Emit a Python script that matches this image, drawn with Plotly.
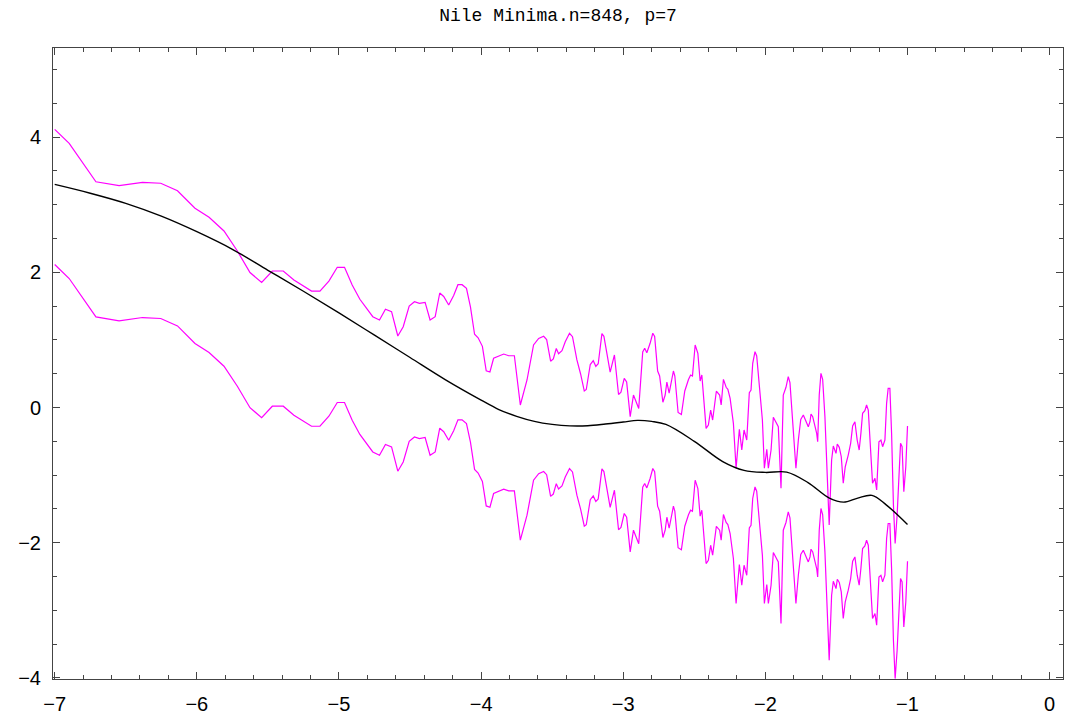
import plotly.graph_objects as go

# Log-frequency abscissa shared by both band curves
log_freq = [
    -7.000,-6.898,-6.710,-6.547,-6.382,-6.254,-6.136,-6.013,-5.914,-5.809,
    -5.715,-5.626,-5.544,-5.469,-5.392,-5.317,-5.193,-5.134,-5.071,-5.012,
    -4.961,-4.907,-4.853,-4.762,-4.715,-4.673,-4.630,-4.586,-4.548,-4.506,
    -4.469,-4.434,-4.394,-4.359,-4.323,-4.291,-4.263,-4.228,-4.193,-4.163,
    -4.134,-4.103,-4.075,-4.046,-4.021,-3.991,-3.964,-3.938,-3.912,-3.872,
    -3.841,-3.806,-3.766,-3.724,-3.677,-3.631,-3.595,-3.560,-3.539,-3.511,
    -3.492,-3.471,-3.455,-3.431,-3.408,-3.378,-3.357,-3.326,-3.300,-3.274,
    -3.260,-3.232,-3.211,-3.193,-3.176,-3.150,-3.136,-3.092,-3.062,-3.033,
    -3.016,-2.993,-2.976,-2.951,-2.928,-2.891,-2.863,-2.849,-2.834,-2.811,
    -2.792,-2.779,-2.758,-2.744,-2.721,-2.705,-2.693,-2.677,-2.647,-2.637,
    -2.614,-2.591,-2.567,-2.541,-2.526,-2.513,-2.494,-2.475,-2.459,-2.447,
    -2.417,-2.401,-2.385,-2.371,-2.345,-2.322,-2.311,-2.295,-2.276,-2.264,
    -2.248,-2.225,-2.206,-2.183,-2.166,-2.150,-2.131,-2.113,-2.101,-2.089,
    -2.073,-2.061,-2.042,-2.021,-2.007,-1.990,-1.979,-1.960,-1.944,-1.909,
    -1.890,-1.874,-1.855,-1.839,-1.827,-1.804,-1.785,-1.768,-1.751,-1.733,
    -1.716,-1.698,-1.686,-1.679,-1.667,-1.651,-1.639,-1.632,-1.621,-1.609,
    -1.597,-1.581,-1.564,-1.551,-1.534,-1.522,-1.503,-1.494,-1.480,-1.466,
    -1.452,-1.438,-1.417,-1.400,-1.386,-1.370,-1.354,-1.340,-1.328,-1.316,
    -1.300,-1.288,-1.276,-1.260,-1.246,-1.229,-1.217,-1.201,-1.187,-1.175,
    -1.159,-1.147,-1.136,-1.124,-1.112,-1.099,-1.087,-1.073,-1.059,-1.049,
    -1.038,-1.026,-1.012,-1.000,
]

band_upper = [
    4.115,3.908,3.340,3.281,3.331,3.317,3.207,2.947,2.814,2.611,
    2.315,1.997,1.849,2.019,2.019,1.886,1.723,1.723,1.871,2.074,
    2.074,1.812,1.601,1.343,1.294,1.453,1.417,1.058,1.195,1.501,
    1.565,1.541,1.556,1.294,1.343,1.694,1.642,1.516,1.657,1.817,
    1.817,1.763,1.487,1.084,1.031,0.905,0.544,0.525,0.728,0.762,
    0.791,0.766,0.766,0.037,0.407,0.925,1.021,1.053,1.006,0.685,
    0.720,0.873,0.796,0.840,0.973,1.098,1.047,0.703,0.496,0.244,
    0.266,0.636,0.692,0.609,0.648,1.092,1.053,0.522,0.777,0.192,
    0.226,0.432,0.377,-0.136,0.185,-0.015,0.821,0.876,0.811,0.950,
    1.098,1.050,0.540,0.466,0.077,0.185,0.377,0.214,0.540,0.466,
    -0.074,-0.104,0.244,0.414,0.481,0.466,0.925,0.802,0.392,0.481,
    -0.308,-0.259,-0.037,-0.185,0.241,0.185,0.037,0.417,0.299,0.269,
    0.136,-0.234,-0.899,-0.322,-0.629,-0.333,-0.481,0.219,0.259,0.654,
    0.825,0.762,0.358,-0.185,-0.899,-0.618,-0.899,-0.629,-0.145,-0.284,
    -1.195,0.185,0.299,0.456,0.367,-0.333,-0.899,-0.481,-0.175,-0.111,
    -0.210,-0.284,-0.210,-0.096,-0.136,-0.274,-0.382,-0.506,0.185,0.506,
    0.417,-0.136,-1.072,-1.738,-0.777,-0.570,-0.678,-0.540,-0.589,-0.728,
    -1.121,-0.876,-0.703,-0.530,-0.274,-0.210,-0.481,-0.629,-0.382,-0.086,
    -0.047,0.037,-0.037,-0.555,-1.121,-1.047,-1.220,-0.506,-0.481,-0.580,
    -0.481,0.062,0.284,0.284,-0.382,-1.442,-2.010,-1.590,-0.973,-0.530,
    -0.580,-1.246,-0.876,-0.274,
]

band_lower = [
    2.115,1.908,1.340,1.281,1.331,1.317,1.207,0.947,0.814,0.611,
    0.315,-0.003,-0.151,0.019,0.019,-0.114,-0.277,-0.277,-0.129,0.074,
    0.074,-0.188,-0.399,-0.657,-0.706,-0.547,-0.583,-0.942,-0.805,-0.499,
    -0.435,-0.459,-0.444,-0.706,-0.657,-0.306,-0.358,-0.484,-0.343,-0.183,
    -0.183,-0.237,-0.513,-0.916,-0.969,-1.095,-1.456,-1.475,-1.272,-1.238,
    -1.209,-1.234,-1.234,-1.963,-1.593,-1.075,-0.979,-0.947,-0.994,-1.315,
    -1.280,-1.127,-1.204,-1.160,-1.027,-0.902,-0.953,-1.297,-1.504,-1.756,
    -1.734,-1.364,-1.308,-1.391,-1.352,-0.908,-0.947,-1.478,-1.223,-1.808,
    -1.774,-1.568,-1.623,-2.136,-1.815,-2.015,-1.179,-1.124,-1.189,-1.050,
    -0.902,-0.950,-1.460,-1.534,-1.923,-1.815,-1.623,-1.786,-1.460,-1.534,
    -2.074,-2.104,-1.756,-1.586,-1.519,-1.534,-1.075,-1.198,-1.608,-1.519,
    -2.308,-2.259,-2.037,-2.185,-1.759,-1.815,-1.963,-1.583,-1.701,-1.731,
    -1.864,-2.234,-2.899,-2.322,-2.629,-2.333,-2.481,-1.781,-1.741,-1.346,
    -1.175,-1.238,-1.642,-2.185,-2.899,-2.618,-2.899,-2.629,-2.145,-2.284,
    -3.195,-1.815,-1.701,-1.544,-1.633,-2.333,-2.899,-2.481,-2.175,-2.111,
    -2.210,-2.284,-2.210,-2.096,-2.136,-2.274,-2.382,-2.506,-1.815,-1.494,
    -1.583,-2.136,-3.072,-3.738,-2.777,-2.570,-2.678,-2.540,-2.589,-2.728,
    -3.121,-2.876,-2.703,-2.530,-2.274,-2.210,-2.481,-2.629,-2.382,-2.086,
    -2.047,-1.963,-2.037,-2.555,-3.121,-3.047,-3.220,-2.506,-2.481,-2.580,
    -2.481,-1.938,-1.716,-1.716,-2.382,-3.442,-4.010,-3.590,-2.973,-2.530,
    -2.580,-3.246,-2.876,-2.274,
]

# Smooth fitted curve (degree p=7)
fit_x = [-7.00,-6.75,-6.50,-6.25,-6.00,-5.75,-5.50,-5.25,-5.00,-4.75,
         -4.50,-4.25,-4.00,-3.875,-3.75,-3.625,-3.50,-3.375,-3.25,-3.125,
         -3.00,-2.90,-2.80,-2.70,-2.50,-2.30,-2.15,-2.00,-1.85,-1.70,
         -1.55,-1.45,-1.35,-1.25,-1.15,-1.00]
fit_y = [3.30,3.17,3.02,2.83,2.60,2.34,2.03,1.72,1.40,1.07,
         0.74,0.41,0.11,-0.03,-0.13,-0.205,-0.25,-0.272,-0.27,-0.245,
         -0.215,-0.19,-0.205,-0.25,-0.50,-0.80,-0.93,-0.96,-0.955,-1.11,
         -1.34,-1.40,-1.34,-1.30,-1.44,-1.73]

title_text = "Nile Minima.n=848, p=7"

fig = go.Figure()
fig.add_trace(go.Scatter(x=log_freq, y=band_upper, mode="lines",
                         line=dict(color="#FF00FF", width=1.2), showlegend=False))
fig.add_trace(go.Scatter(x=log_freq, y=band_lower, mode="lines",
                         line=dict(color="#FF00FF", width=1.2), showlegend=False))
fig.add_trace(go.Scatter(x=fit_x, y=fit_y, mode="lines",
                         line=dict(color="black", width=1.4, shape="spline", smoothing=1.0),
                         showlegend=False))

axis_common = dict(
    showgrid=False, zeroline=False, showline=True, linecolor="#444", linewidth=1,
    mirror="allticks", ticks="inside", ticklen=7, tickcolor="#444", tickwidth=1,
    automargin=False, ticklabelstandoff=7,
    tickfont=dict(family="Liberation Sans, Arial, sans-serif", size=20, color="black"),
)

fig.update_xaxes(range=[-7.012, 0.094], tick0=0, dtick=1,
                 minor=dict(dtick=0.2, ticks="inside", ticklen=4, tickcolor="#444"),
                 **axis_common)
fig.update_yaxes(range=[-4.016, 5.318], tick0=0, dtick=2,
                 minor=dict(dtick=0.5, ticks="inside", ticklen=4, tickcolor="#444"),
                 **axis_common)

fig.update_layout(
    width=1065, height=717, autosize=False,
    margin=dict(l=53, r=2, t=48, b=38),
    plot_bgcolor="white", paper_bgcolor="white",
    title=dict(text=title_text, x=0.5, xref="paper", xanchor="center",
               y=1 - 15 / 717, yref="container", yanchor="middle",
               font=dict(family="Liberation Mono, Courier New, monospace", size=18, color="black")),
)

fig.write_html(
    "out.html",
    config={"responsive": False, "displayModeBar": False},
    post_script="document.body.style.margin='0';document.body.style.padding='0';"
                "document.body.style.overflow='hidden';",
)
